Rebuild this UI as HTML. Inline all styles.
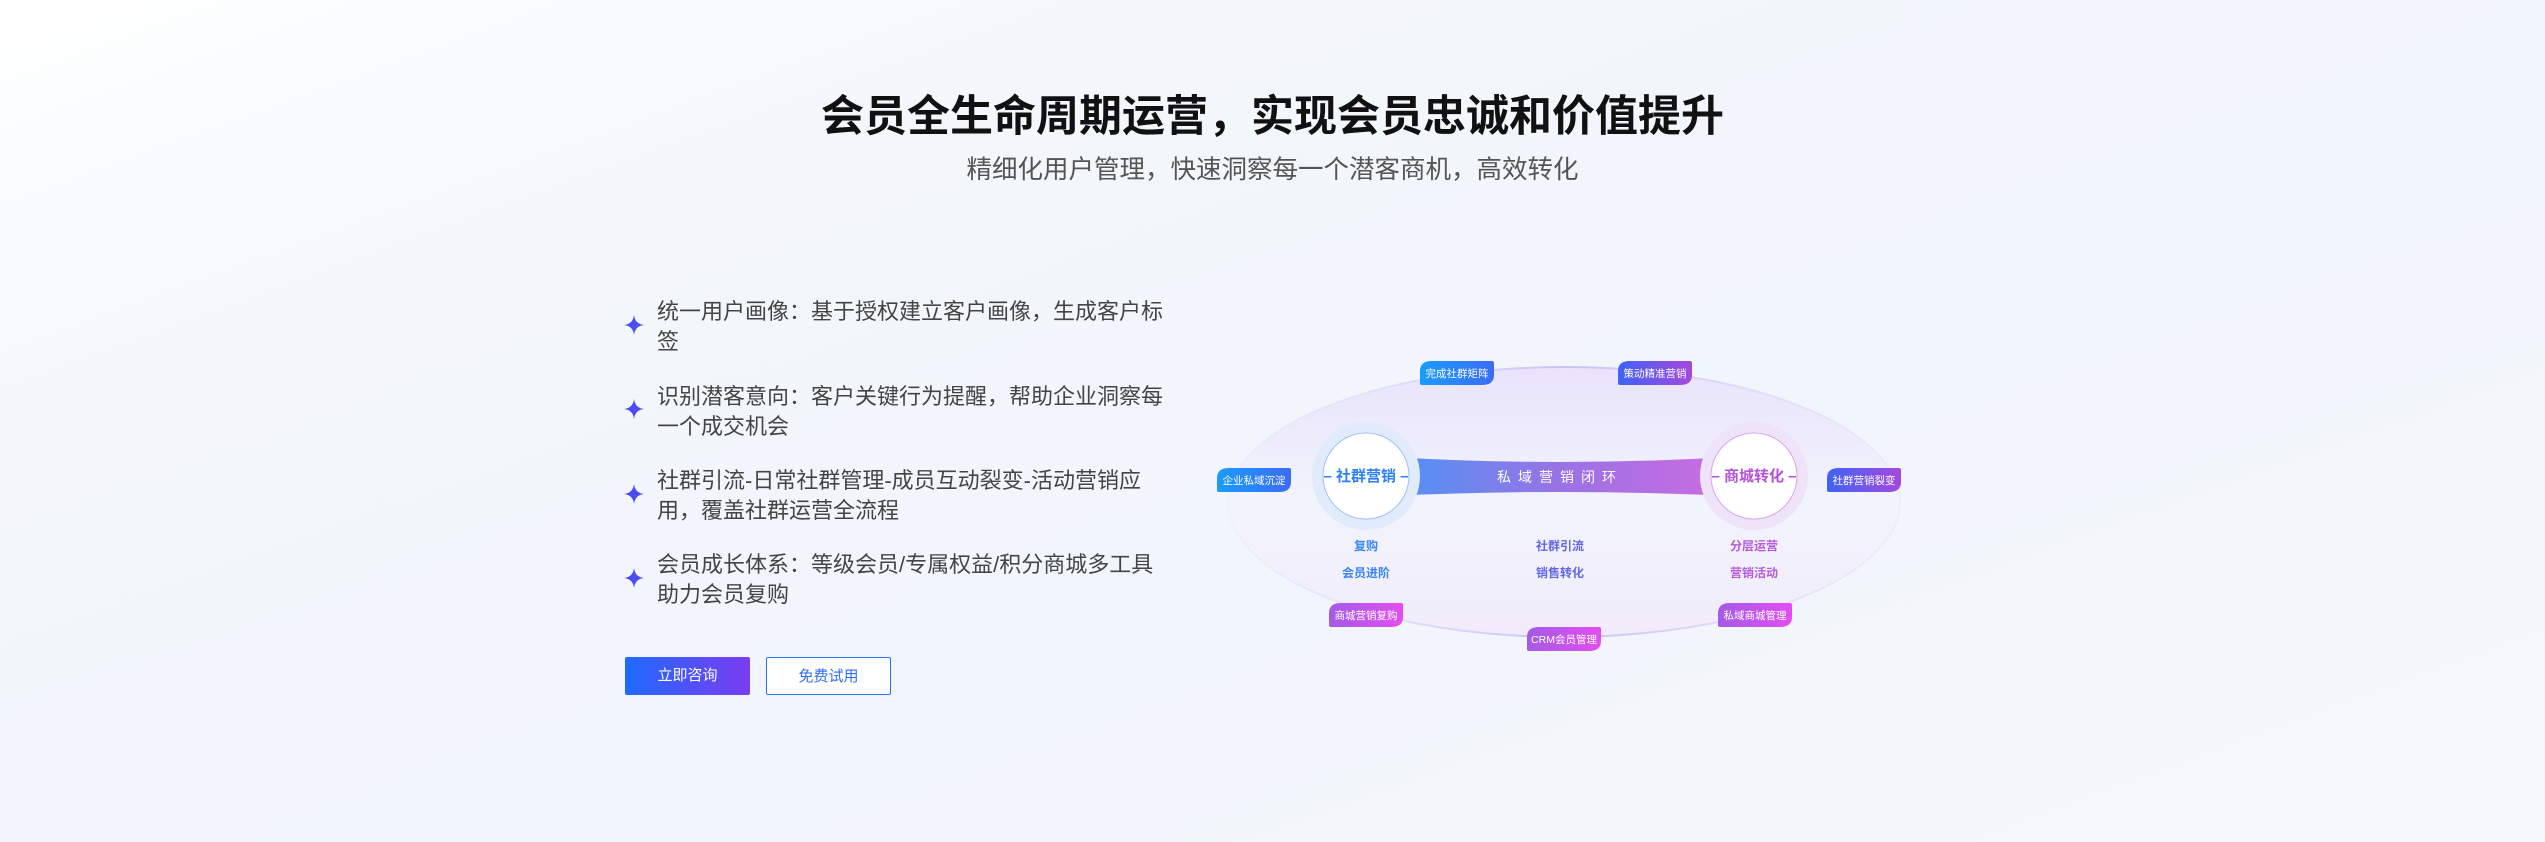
<!DOCTYPE html>
<html><head><meta charset="utf-8"><style>
*{margin:0;padding:0;box-sizing:border-box}
body{width:2545px;height:842px;overflow:hidden;font-family:"Liberation Sans","Noto Sans CJK SC",sans-serif;background:linear-gradient(160deg,#ffffff 0%,#f3f7fc 25%,#f1f6fc 60%,#f6f8fc 100%);position:relative}
.t{position:absolute;left:0;width:2545px;text-align:center}
.sub{top:154px;font-size:25.5px;color:#555;line-height:32px}
.item{position:absolute;left:657px;width:520px;font-size:22px;line-height:30px;color:#444}
.star{position:absolute;left:624px;width:20px;height:20px}
.btn{position:absolute;top:657px;width:125px;height:38px;border-radius:2px;font-size:15px;line-height:38px;text-align:center}
</style></head><body>
<div class="t" style="top:90px;font-size:43px;font-weight:700;color:#111;line-height:54px">会员全生命周期运营，实现会员忠诚和价值提升</div>
<div class="t sub">精细化用户管理，快速洞察每一个潜客商机，高效转化</div>

<svg class="star" style="top:315px" viewBox="0 0 20 20"><path d="M10 0 Q11 9 20 10 Q11 11 10 20 Q9 11 0 10 Q9 9 10 0Z" fill="#4b4cf0"/></svg>
<div class="item" style="top:297px">统一用户画像：基于授权建立客户画像，生成客户标签</div>
<svg class="star" style="top:399px" viewBox="0 0 20 20"><path d="M10 0 Q11 9 20 10 Q11 11 10 20 Q9 11 0 10 Q9 9 10 0Z" fill="#4b4cf0"/></svg>
<div class="item" style="top:382px">识别潜客意向：客户关键行为提醒，帮助企业洞察每一个成交机会</div>
<svg class="star" style="top:484px" viewBox="0 0 20 20"><path d="M10 0 Q11 9 20 10 Q11 11 10 20 Q9 11 0 10 Q9 9 10 0Z" fill="#4b4cf0"/></svg>
<div class="item" style="top:466px;width:500px">社群引流-日常社群管理-成员互动裂变-活动营销应用，覆盖社群运营全流程</div>
<svg class="star" style="top:568px" viewBox="0 0 20 20"><path d="M10 0 Q11 9 20 10 Q11 11 10 20 Q9 11 0 10 Q9 9 10 0Z" fill="#4b4cf0"/></svg>
<div class="item" style="top:550px;width:510px">会员成长体系：等级会员/专属权益/积分商城多工具助力会员复购</div>

<div class="btn" style="left:625px;background:linear-gradient(90deg,#1f6bff,#7a3cf0);color:#fff">立即咨询</div>
<div class="btn" style="left:766px;border:1px solid #2f6ff5;color:#2f6ff5;background:#fff">免费试用</div>

<svg style="position:absolute;left:0;top:0" width="2545" height="842">
<defs>
<linearGradient id="ef" x1="0" y1="0" x2="0" y2="1"><stop offset="0" stop-color="#e9e3fb"/><stop offset="0.5" stop-color="#f2f4fc"/><stop offset="1" stop-color="#f1ecfb"/></linearGradient>
<linearGradient id="es" x1="0" y1="0" x2="1" y2="0"><stop offset="0" stop-color="#e4e6f8" stop-opacity="0.3"/><stop offset="0.5" stop-color="#c9c3f3"/><stop offset="1" stop-color="#e6dbf6" stop-opacity="0.3"/></linearGradient>
<linearGradient id="band" x1="0" y1="0" x2="1" y2="0"><stop offset="0" stop-color="#4b95f6"/><stop offset="0.5" stop-color="#9a72e4"/><stop offset="1" stop-color="#cc6ce0"/></linearGradient>
<linearGradient id="gb" x1="0" y1="0" x2="1" y2="0"><stop offset="0" stop-color="#1a9cfd"/><stop offset="1" stop-color="#3b6cf4"/></linearGradient>
<linearGradient id="gbp" x1="0" y1="0" x2="1" y2="0"><stop offset="0" stop-color="#3f63f3"/><stop offset="1" stop-color="#a548de"/></linearGradient>
<linearGradient id="gp" x1="0" y1="0" x2="1" y2="0"><stop offset="0" stop-color="#a45be6"/><stop offset="1" stop-color="#e34ef0"/></linearGradient>
</defs>
<ellipse cx="1564" cy="502" rx="336" ry="135" fill="url(#ef)" stroke="url(#es)" stroke-width="2"/>
<path d="M1390 457 Q1560 467 1730 457 L1730 496 Q1560 488 1390 496Z" fill="url(#band)"/>
<text x="1560" y="482" font-size="14" fill="#fff" text-anchor="middle" letter-spacing="7">私域营销闭环</text>
<circle cx="1366" cy="476" r="54" fill="#e1ebfb"/>
<circle cx="1366" cy="476" r="43" fill="#fff" stroke="#9cc2fa" stroke-width="1"/>
<text x="1366" y="481" font-size="15" font-weight="700" fill="#2f80f6" text-anchor="middle">– 社群营销 –</text>
<circle cx="1754" cy="476" r="54" fill="#efe3f9"/>
<circle cx="1754" cy="476" r="43" fill="#fff" stroke="#dba4ee" stroke-width="1"/>
<text x="1754" y="481" font-size="15" font-weight="700" fill="#b451d8" text-anchor="middle">– 商城转化 –</text>
<g font-size="12" text-anchor="middle" font-weight="700">
<text x="1366" y="550" fill="#3a86f5">复购</text><text x="1366" y="577" fill="#3a86f5">会员进阶</text>
<text x="1560" y="550" fill="#6466e8">社群引流</text><text x="1560" y="577" fill="#6466e8">销售转化</text>
<text x="1754" y="550" fill="#b55ad9">分层运营</text><text x="1754" y="577" fill="#b55ad9">营销活动</text>
</g>
<g font-size="10.5" fill="#fff" text-anchor="middle">
<path d="M1420 371 Q1420 361 1432 361 L1492 361 Q1494 361 1494 363 L1494 375 Q1494 385 1482 385 L1422 385 Q1420 385 1420 383Z" fill="url(#gb)"/><text x="1457" y="377">完成社群矩阵</text>
<path d="M1618 371 Q1618 361 1630 361 L1690 361 Q1692 361 1692 363 L1692 375 Q1692 385 1680 385 L1620 385 Q1618 385 1618 383Z" fill="url(#gbp)"/><text x="1655" y="377">策动精准营销</text>
<path d="M1217 478 Q1217 468 1229 468 L1289 468 Q1291 468 1291 470 L1291 482 Q1291 492 1279 492 L1219 492 Q1217 492 1217 490Z" fill="url(#gb)"/><text x="1254" y="484">企业私域沉淀</text>
<path d="M1827 478 Q1827 468 1839 468 L1899 468 Q1901 468 1901 470 L1901 482 Q1901 492 1889 492 L1829 492 Q1827 492 1827 490Z" fill="url(#gbp)"/><text x="1864" y="484">社群营销裂变</text>
<path d="M1329 613 Q1329 603 1341 603 L1401 603 Q1403 603 1403 605 L1403 617 Q1403 627 1391 627 L1331 627 Q1329 627 1329 625Z" fill="url(#gp)"/><text x="1366" y="619">商城营销复购</text>
<path d="M1527 637 Q1527 627 1539 627 L1599 627 Q1601 627 1601 629 L1601 641 Q1601 651 1589 651 L1529 651 Q1527 651 1527 649Z" fill="url(#gp)"/><text x="1564" y="643">CRM会员管理</text>
<path d="M1718 613 Q1718 603 1730 603 L1790 603 Q1792 603 1792 605 L1792 617 Q1792 627 1780 627 L1720 627 Q1718 627 1718 625Z" fill="url(#gp)"/><text x="1755" y="619">私域商城管理</text>
</g>
</svg>
</body></html>
